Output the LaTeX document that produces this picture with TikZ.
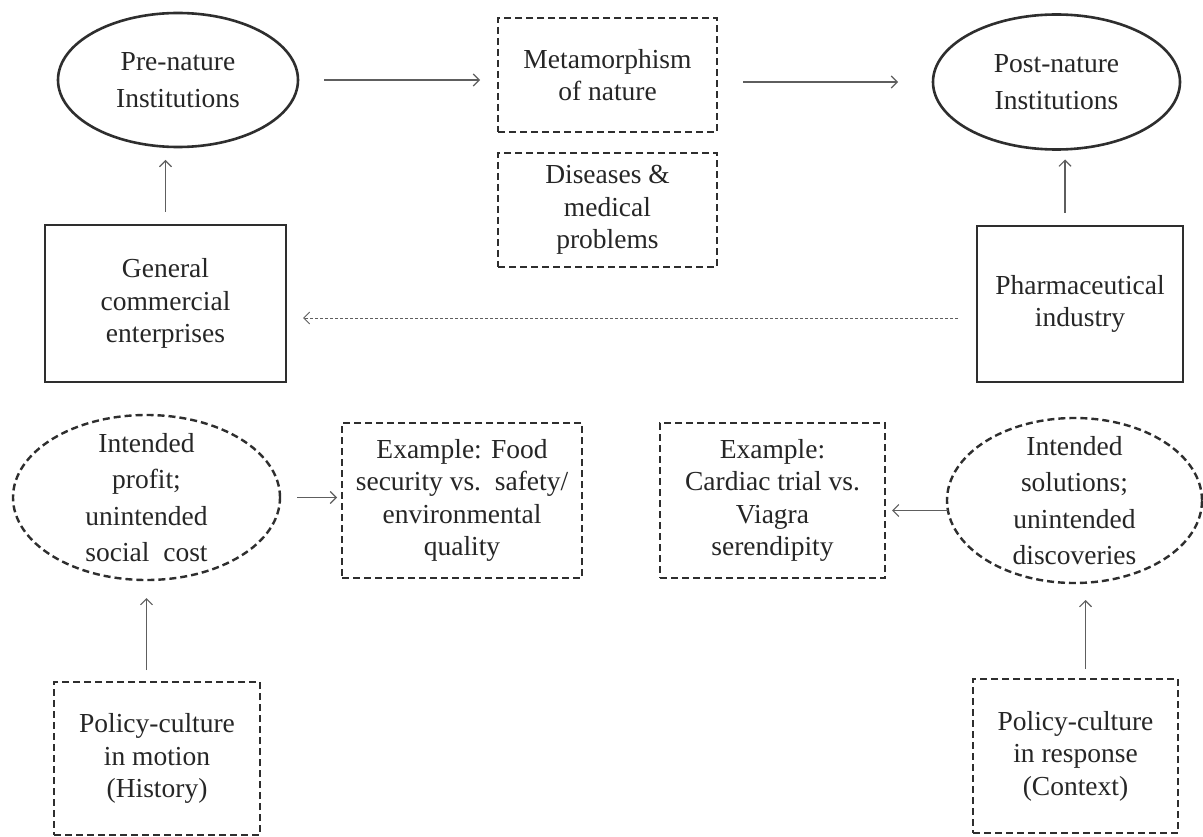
\documentclass[tikz,border=0pt]{standalone}
\usepackage{fontspec}
\setmainfont{Liberation Serif}
\usetikzlibrary{shapes.geometric,arrows.meta,calc}
\definecolor{ink}{HTML}{262626}
\definecolor{edge}{HTML}{2E2E2E}
\definecolor{linegray}{HTML}{5E5E5E}
\begin{document}
\begin{tikzpicture}[x=1pt,y=-1pt,
  every node/.style={inner sep=0pt, outer sep=0pt},
  solidbox/.style={draw=edge, line width=2.6pt, rectangle},
  dashbox/.style={draw=edge, line width=2.4pt, rectangle, dash pattern=on 7pt off 4pt},
  solidell/.style={draw=edge, line width=2.6pt, ellipse},
  dashell/.style={draw=edge, line width=2.4pt, ellipse, dash pattern=on 7pt off 4pt},
  txt/.style={text=ink, align=center, font=\fontsize{27.5}{32.5}\selectfont},
  txtw/.style={text=ink, align=center, font=\fontsize{27.5}{36.5}\selectfont},
  arr/.style={draw=linegray, line width=1.1pt, -{Straight Barb[length=6pt,width=12pt]}},
  dotarr/.style={arr, line width=0.9pt, dash pattern=on 3pt off 2pt}
]
\useasboundingbox (0,0) rectangle (1203,837);
\fill[white] (0,0) rectangle (1203,837);

% ---- shapes ----
\node[solidell, minimum width=240pt, minimum height=134pt] (preN) at (178,80) {};
\node[txtw] (preNt) at (preN.center) {Pre-nature\\Institutions};

\node[dashbox, minimum width=219pt, minimum height=114pt] (meta) at (607.5,75) {};
\node[txt] (metat) at (meta.center) {Metamorphism\\of nature};

\node[solidell, minimum width=247pt, minimum height=135pt] (postN) at (1056.5,82) {};
\node[txtw] (postNt) at (postN.center) {Post-nature\\Institutions};

\node[dashbox, minimum width=219pt, minimum height=114pt] (dis) at (607.5,210) {};
\node[txt] (dist) at (dis.center) {Diseases \&\\medical\\problems};

\node[solidbox, minimum width=241pt, minimum height=157pt] (gen) at (165.5,303.5) {};
\node[txt] (gent) at (gen.center) {General\\commercial\\enterprises};

\node[solidbox, minimum width=206pt, minimum height=156pt] (pha) at (1080,304) {};
\node[txt] (phat) at (pha.center) {Pharmaceutical\\industry};

\node[dashell, minimum width=267pt, minimum height=165pt] (prof) at (146.5,497.5) {};
\node[txtw] (proft) at (prof.center) {Intended\\profit;\\unintended\\social~~cost};

\node[dashbox, minimum width=240pt, minimum height=155pt] (food) at (462,500.5) {};
\node[txt] (foodt) at (food.center) {Example: Food\\security vs.~~safety/\\environmental\\quality};

\node[dashbox, minimum width=225pt, minimum height=155pt] (card) at (772.5,500.5) {};
\node[txt] (cardt) at (card.center) {Example:\\Cardiac trial vs.\\Viagra\\serendipity};

\node[dashell, minimum width=255pt, minimum height=165pt] (sol) at (1074.5,500.5) {};
\node[txtw] (solt) at (sol.center) {Intended\\solutions;\\unintended\\discoveries};

\node[dashbox, minimum width=206pt, minimum height=153pt] (hist) at (157,758.5) {};
\node[txt] (histt) at (hist.center) {Policy-culture\\in motion\\(History)};

\node[dashbox, minimum width=205pt, minimum height=154pt] (ctx) at (1075.5,756) {};
\node[txt] (ctxt) at (ctx.center) {Policy-culture\\in response\\(Context)};

% ---- helper coordinates ----
\coordinate (phaA) at ($(pha.north)+(-15,0)$);
\coordinate (phaW) at ($(pha.west)+(0,14)$);
\coordinate (solW) at ($(sol.west)+(1,10)$);
\coordinate (ctxA) at ($(ctx.north)+(10,0)$);

% ---- connectors ----
\draw[arr, shorten <=26pt, shorten >=18pt] (preN.east) -- (preN.east -| meta.west);
\draw[arr, shorten <=26pt, shorten >=35pt] (postN.west -| meta.east) -- (postN.west);
\draw[arr, shorten <=13pt, shorten >=13pt] (gen.north) -- (gen.north |- preN.south);
\draw[arr, shorten <=13pt, shorten >=10pt] (phaA) -- (phaA |- postN.south);
\draw[dotarr, shorten <=19pt, shorten >=17pt] (phaW) -- (phaW -| gen.east);
\draw[arr, shorten <=17pt, shorten >=5pt] (prof.east) -- (prof.east -| food.west);
\draw[arr, shorten >=7pt] (solW) -- (solW -| card.east);
\draw[arr, shorten <=12pt, shorten >=18pt] (hist.north -| prof.south) -- (prof.south);
\draw[arr, shorten <=10pt, shorten >=17pt] (ctxA) -- (ctxA |- sol.south);
\end{tikzpicture}
\end{document}
